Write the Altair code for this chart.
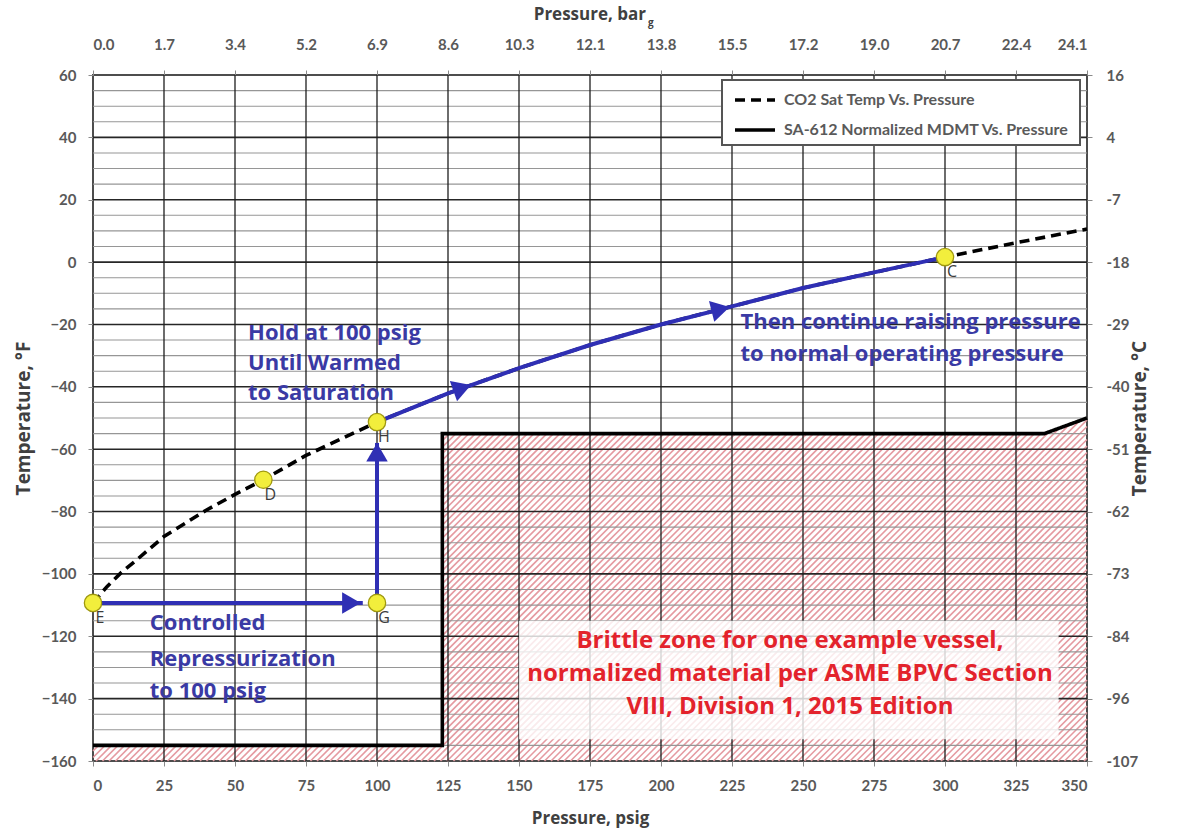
import math
import altair as alt
import pandas as pd

# ---- plot geometry -------------------------------------------------------
PLOT_W, PLOT_H = 994, 686
X_DOMAIN = [0, 350]
Y_DOMAIN = [-160, 60]

# ---- axis ticks and labels -----------------------------------------------
PSIG_TICKS = [0, 25, 50, 75, 100, 125, 150, 175, 200, 225, 250, 275, 300, 325, 350]
BAR_LABELS = ["0.0", "1.7", "3.4", "5.2", "6.9", "8.6", "10.3", "12.1", "13.8",
              "15.5", "17.2", "19.0", "20.7", "22.4", "24.1"]
TEMP_F_TICKS = [-160, -140, -120, -100, -80, -60, -40, -20, 0, 20, 40, 60]
TEMP_C_LABELS = ["-107", "-96", "-84", "-73", "-62", "-51", "-40", "-29", "-18", "-7", "4", "16"]
TEMP_F_MINOR = [-155, -150, -145, -135, -130, -125, -115, -110, -105, -95, -90, -85,
                -75, -70, -65, -55, -50, -45, -35, -30, -25, -15, -10, -5,
                5, 10, 15, 25, 30, 35, 45, 50, 55]

# ---- curves ---------------------------------------------------------------
CO2_NAME = "CO2 Sat Temp Vs. Pressure"
MDMT_NAME = "SA-612 Normalized MDMT Vs. Pressure"
CO2_PSIG = [0, 5, 10, 15, 25, 40, 50, 60, 75, 100, 125, 150, 175, 200, 225, 250, 275, 300, 325, 350]
CO2_TEMP_F = [-109.3, -104.0, -99.5, -95.8, -88.0, -79.5, -74.5, -69.8, -62.0, -51.3,
              -42.1, -34.0, -26.6, -20.0, -14.2, -8.3, -3.3, 1.6, 6.2, 10.6]
MDMT_PSIG = [0, 123, 123, 335, 350]
MDMT_TEMP_F = [-155, -155, -55, -55, -50]

# ---- process states -------------------------------------------------------
STATE_NAMES = ["E", "D", "H", "G", "C"]
STATE_PSIG = [0, 60, 100, 100, 300]
STATE_TEMP_F = [-109.3, -69.8, -51.3, -109.3, 1.6]

# blue repressurization path: E -> G, G -> H, then along saturation H -> C
PATH_EG_PSIG = [0, 95]
PATH_EG_TEMP_F = [-109.3, -109.3]
PATH_GH_PSIG = [100, 100]
PATH_GH_TEMP_F = [-109.3, -58]
ARROW_PSIG = [91, 100, 130, 221]
ARROW_TEMP_F = [-109.3, -61.0, -40.4, -15.1]
ARROW_SHAPES = ["triangle-right", "triangle-up", "triangle-right", "triangle-right"]

# ---- annotation text ------------------------------------------------------
HOLD_LINES = ["Hold at 100 psig", "Until Warmed", "to Saturation"]
HOLD_Y = [-22.7, -32.4, -42.0]
HOLD_X = 54.6
RAISE_LINES = ["Then continue raising pressure", "to normal operating pressure"]
RAISE_Y = [-19.2, -29.5]
RAISE_X = 228.0
REPRESS_LINES = ["Controlled", "Repressurization", "to 100 psig"]
REPRESS_Y = [-115.7, -127.3, -137.6]
REPRESS_X = 20.0
BRITTLE_LINES = ["Brittle zone for one example vessel,",
                 "normalized material per ASME BPVC Section",
                 "VIII, Division 1, 2015 Edition"]
BRITTLE_Y = [-121.5, -132.1, -142.7]
BRITTLE_X = 245.4
BRITTLE_BOX = dict(x=150, x2=340, y=-115, y2=-153)

# ---- styling --------------------------------------------------------------
FONT = "Lato"
TEXT_FONT = "Open Sans"
BLUE_LINE = "#2f2fb4"
BLUE_TEXT = "#3a3aa4"
RED_TEXT = "#e3232c"
HATCH_BG = "#f8e2e4"
HATCH_LINE = "#e59aa1"
HATCH_STEP_PX = 6.5

sx = PLOT_W / (X_DOMAIN[1] - X_DOMAIN[0])
sy = PLOT_H / (Y_DOMAIN[1] - Y_DOMAIN[0])

xs = alt.Scale(domain=X_DOMAIN, nice=False, zero=False)
ys = alt.Scale(domain=Y_DOMAIN, nice=False, zero=False)


def X(field="psig"):
    return alt.X(f"{field}:Q", scale=xs, axis=None)


def Y(field="temp"):
    return alt.Y(f"{field}:Q", scale=ys, axis=None)


# ---- brittle zone: pink fill plus diagonal hatching -----------------------
zone_df = pd.DataFrame({"psig": MDMT_PSIG, "temp": MDMT_TEMP_F,
                        "idx": range(len(MDMT_PSIG))})
zone_fill = alt.Chart(zone_df).mark_area(color=HATCH_BG, opacity=1).encode(
    x=X(), y=Y(), y2=alt.datum(Y_DOMAIN[0]), order="idx:Q")

# the zone split into convex pieces under the MDMT curve
floor = Y_DOMAIN[0]
pieces = []
for (p0, t0), (p1, t1) in zip(zip(MDMT_PSIG, MDMT_TEMP_F), zip(MDMT_PSIG[1:], MDMT_TEMP_F[1:])):
    if p1 > p0:
        pieces.append([(p0, floor), (p1, floor), (p1, t1), (p0, t0)])


def to_px(p, t):
    return p * sx, (Y_DOMAIN[1] - t) * sy


def from_px(px, py):
    return px / sx, Y_DOMAIN[1] - py / sy


hatch_rows = []
c = 0.0
c_max = PLOT_W + PLOT_H
while c <= c_max:
    for poly in pieces:
        pts = [to_px(*v) for v in poly]
        hits = []
        for a, b in zip(pts, pts[1:] + pts[:1]):
            fa = a[0] + a[1] - c
            fb = b[0] + b[1] - c
            if fa == fb:
                continue
            if fa * fb <= 0:
                u = fa / (fa - fb)
                hits.append((a[0] + u * (b[0] - a[0]), a[1] + u * (b[1] - a[1])))
        if len(hits) >= 2:
            lo = min(hits)
            hi = max(hits)
            if hi[0] - lo[0] > 0.01:
                p_a, t_a = from_px(*lo)
                p_b, t_b = from_px(*hi)
                hatch_rows.append({"psig": p_a, "temp": t_a, "psig2": p_b, "temp2": t_b})
    c += HATCH_STEP_PX
hatch_df = pd.DataFrame(hatch_rows)
hatch = alt.Chart(hatch_df).mark_rule(color=HATCH_LINE, strokeWidth=1.6).encode(
    x=X(), y=Y(), x2="psig2:Q", y2="temp2:Q")

# ---- grid -----------------------------------------------------------------
minor_df = pd.DataFrame({"temp": TEMP_F_MINOR})
grid_minor = alt.Chart(minor_df).mark_rule(color="#969696", strokeWidth=1.1).encode(y=Y())

hmaj_df = pd.DataFrame({"temp": TEMP_F_TICKS[1:-1]})
grid_h = alt.Chart(hmaj_df).mark_rule(color="#262626", strokeWidth=1.6).encode(y=Y())

vmaj_df = pd.DataFrame({"psig": PSIG_TICKS[1:-1]})
grid_v = alt.Chart(vmaj_df).mark_rule(color="#1e1e1e", strokeWidth=1.3).encode(x=X())

box_df = pd.DataFrame([BRITTLE_BOX])
text_box = alt.Chart(box_df).mark_rect(color="white", opacity=0.8).encode(
    x=X("x"), x2="x2:Q", y=Y("y"), y2="y2:Q")

# ---- legend frame ---------------------------------------------------------
legend_box = alt.Chart(pd.DataFrame({"k": [0]})).mark_rect(
    fill="white", stroke="#555555", strokeWidth=2).encode(
    x=alt.value(629), x2=alt.value(987), y=alt.value(5), y2=alt.value(70))

# ---- curves with legend ---------------------------------------------------
curves_df = pd.concat([
    pd.DataFrame({"series": CO2_NAME, "psig": CO2_PSIG, "temp": CO2_TEMP_F,
                  "idx": range(len(CO2_PSIG))}),
    pd.DataFrame({"series": MDMT_NAME, "psig": MDMT_PSIG, "temp": MDMT_TEMP_F,
                  "idx": range(len(MDMT_PSIG))}),
])
curves = alt.Chart(curves_df).mark_line(color="black", strokeWidth=3.6).encode(
    x=X(), y=Y(), order="idx:Q",
    strokeDash=alt.StrokeDash(
        "series:N",
        scale=alt.Scale(domain=[CO2_NAME, MDMT_NAME], range=[[10, 6], [1, 0]]),
        legend=alt.Legend(
            title=None, orient="none", legendX=640, legendY=3, padding=0,
            symbolType="stroke", symbolSize=1600, symbolStrokeWidth=3.5,
            symbolStrokeColor="black", rowPadding=-8, labelLimit=500,
            labelFont=FONT, labelFontSize=16, labelFontWeight="bold",
            labelColor="#5a5a5a", labelOffset=7,
        ),
    ),
)

# ---- blue path and arrowheads --------------------------------------------
hc_psig = [p for p in CO2_PSIG if STATE_PSIG[2] <= p <= STATE_PSIG[4]]
hc_temp = [t for p, t in zip(CO2_PSIG, CO2_TEMP_F) if STATE_PSIG[2] <= p <= STATE_PSIG[4]]
path_df = pd.concat([
    pd.DataFrame({"seg": "EG", "psig": PATH_EG_PSIG, "temp": PATH_EG_TEMP_F, "idx": [0, 1]}),
    pd.DataFrame({"seg": "GH", "psig": PATH_GH_PSIG, "temp": PATH_GH_TEMP_F, "idx": [0, 1]}),
    pd.DataFrame({"seg": "HC", "psig": hc_psig, "temp": hc_temp, "idx": range(len(hc_psig))}),
])
path = alt.Chart(path_df).mark_line(color=BLUE_LINE, strokeWidth=4).encode(
    x=X(), y=Y(), detail="seg:N", order="idx:Q")


def heading(p):
    """Screen rotation (clockwise degrees) of the saturation curve at pressure p."""
    for (p0, t0), (p1, t1) in zip(zip(CO2_PSIG, CO2_TEMP_F), zip(CO2_PSIG[1:], CO2_TEMP_F[1:])):
        if p0 <= p <= p1:
            ang = math.degrees(math.atan2((t1 - t0) * sy, (p1 - p0) * sx))
            return (360 - ang) % 360
    return 0


arrow_angles = [0, 0, heading(ARROW_PSIG[2]), heading(ARROW_PSIG[3])]
arrow_df = pd.DataFrame({"psig": ARROW_PSIG, "temp": ARROW_TEMP_F,
                         "shape": ARROW_SHAPES, "angle": arrow_angles})
arrows = alt.Chart(arrow_df).mark_point(
    filled=True, color=BLUE_LINE, size=460, opacity=1).encode(
    x=X(), y=Y(),
    shape=alt.Shape("shape:N", scale=None),
    angle=alt.Angle("angle:Q", scale=None))

# ---- state points and labels ---------------------------------------------
state_df = pd.DataFrame({"name": STATE_NAMES, "psig": STATE_PSIG, "temp": STATE_TEMP_F})
points = alt.Chart(state_df).mark_circle(
    size=300, fill="#f2ee3c", stroke="#9f980f", strokeWidth=1.3, opacity=1).encode(
    x=X(), y=Y())
point_labels = alt.Chart(state_df).mark_text(
    font=TEXT_FONT, fontSize=16, color="#3c3c3c", dx=7, dy=15, align="center").encode(
    x=X(), y=Y(), text="name:N")

# ---- annotations ----------------------------------------------------------
blue_df = pd.DataFrame({
    "text": HOLD_LINES + RAISE_LINES + REPRESS_LINES,
    "psig": [HOLD_X] * len(HOLD_LINES) + [RAISE_X] * len(RAISE_LINES) + [REPRESS_X] * len(REPRESS_LINES),
    "temp": HOLD_Y + RAISE_Y + REPRESS_Y,
})
blue_text = alt.Chart(blue_df).mark_text(
    font=TEXT_FONT, fontSize=22, fontWeight="bold", color=BLUE_TEXT,
    align="left", baseline="middle").encode(x=X(), y=Y(), text="text:N")

red_df = pd.DataFrame({"text": BRITTLE_LINES, "psig": [BRITTLE_X] * len(BRITTLE_LINES),
                       "temp": BRITTLE_Y})
red_text = alt.Chart(red_df).mark_text(
    font=TEXT_FONT, fontSize=24, fontWeight="bold", color=RED_TEXT,
    align="center", baseline="middle").encode(x=X(), y=Y(), text="text:N")

# ---- axes -----------------------------------------------------------------
axis_style = dict(grid=False, domain=False, tickSize=5, tickColor="#8a8a8a",
                  labelFont=FONT, labelFontSize=15, labelFontWeight="bold",
                  labelColor="#595959", titleFont=TEXT_FONT, titleFontSize=17,
                  titleFontWeight="bold", titleColor="#404040")

frame_df = pd.DataFrame({"psig": X_DOMAIN, "temp": Y_DOMAIN})
bar_expr = f"{BAR_LABELS}[indexof({PSIG_TICKS}, datum.value)]"
degc_expr = f"{TEMP_C_LABELS}[indexof({TEMP_F_TICKS}, datum.value)]"

axes_main = alt.Chart(frame_df).mark_point(opacity=0).encode(
    x=alt.X("psig:Q", scale=xs, axis=alt.Axis(
        orient="bottom", values=PSIG_TICKS, title="Pressure, psig",
        labelPadding=12, titlePadding=17, **axis_style)),
    y=alt.Y("temp:Q", scale=ys, axis=alt.Axis(
        orient="left", values=TEMP_F_TICKS, title="Temperature, °F",
        labelPadding=12, titlePadding=8, **{**axis_style, "titleFontSize": 19})),
)
axes_alt = alt.Chart(frame_df).mark_point(opacity=0).encode(
    x=alt.X("psig:Q", scale=xs, axis=alt.Axis(
        orient="top", values=PSIG_TICKS, title=None, labelExpr=bar_expr,
        labelPadding=18, **axis_style)),
    y=alt.Y("temp:Q", scale=ys, axis=alt.Axis(
        orient="right", values=TEMP_F_TICKS, title="Temperature, °C",
        labelExpr=degc_expr, titleAngle=270, labelPadding=14,
        titlePadding=12, **{**axis_style, "titleFontSize": 19})),
)

# top title with subscript
top_title = alt.Chart(pd.DataFrame({"t": ["Pressure, bar"]})).mark_text(
    font=TEXT_FONT, fontSize=17, fontWeight="bold", color="#404040",
    align="right", baseline="middle").encode(
    x=alt.value(553), y=alt.value(-60), text="t:N")
top_sub = alt.Chart(pd.DataFrame({"t": ["g"]})).mark_text(
    font=TEXT_FONT, fontSize=10, fontWeight="bold", color="#404040",
    align="left", baseline="middle").encode(
    x=alt.value(555), y=alt.value(-52), text="t:N")

chart = alt.layer(
    zone_fill, hatch, grid_minor, grid_h, grid_v, text_box, legend_box, curves, path,
    arrows, points, point_labels, blue_text, red_text, axes_main, axes_alt,
    top_title, top_sub,
).resolve_axis(x="independent", y="independent").properties(
    width=PLOT_W, height=PLOT_H,
    autosize=alt.AutoSizeParams(type="none"),
    padding={"left": 93, "top": 75, "right": 1181 - 93 - PLOT_W, "bottom": 832 - 75 - PLOT_H},
    background="white",
).configure_view(stroke="#4d4d4d", strokeWidth=2)

chart.save("out.html", embed_options={"renderer": "svg", "actions": False})
